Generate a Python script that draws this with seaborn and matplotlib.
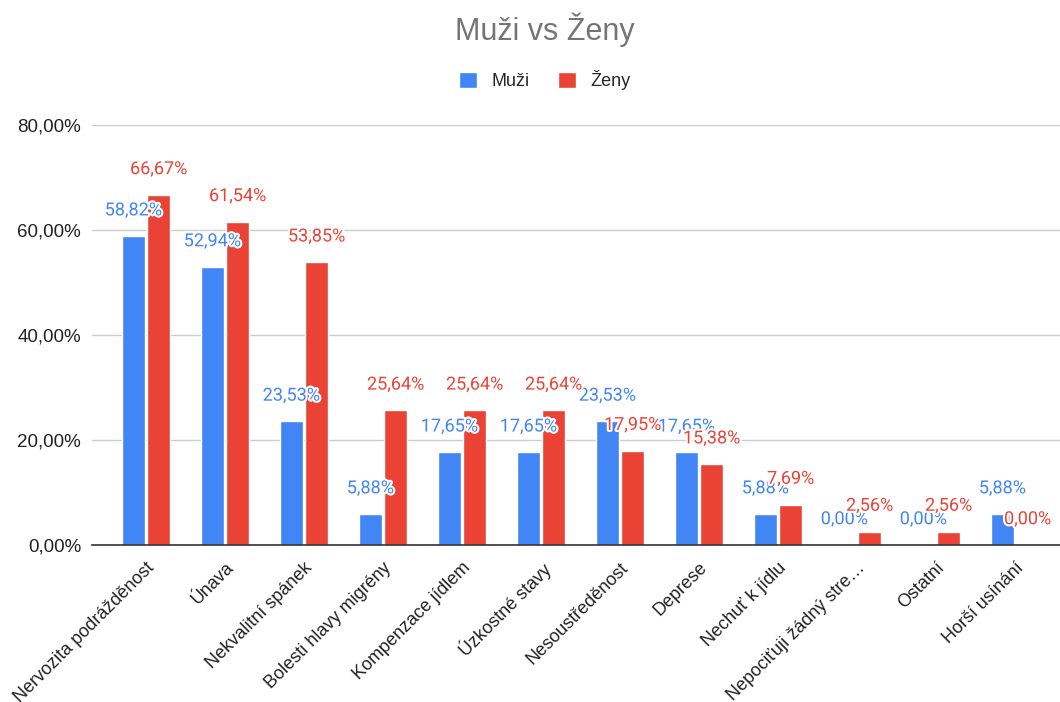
import pandas as pd
import matplotlib
matplotlib.use("Agg")
import matplotlib.pyplot as plt
import matplotlib.patheffects as pe
import seaborn as sns

categories = ['Nervozita podrážděnost', 'Únava', 'Nekvalitní spánek', 'Bolesti hlavy migrény',
              'Kompenzace jídlem', 'Úzkostné stavy', 'Nesoustředěnost', 'Deprese',
              'Nechuť k jídlu', 'Nepociťuji žádný stre…', 'Ostatní', 'Horší usínání']
muzi = [58.82, 52.94, 23.53, 5.88, 17.65, 17.65, 23.53, 17.65, 5.88, 0.00, 0.00, 5.88]
zeny = [66.67, 61.54, 53.85, 25.64, 25.64, 25.64, 17.95, 15.38, 7.69, 2.56, 2.56, 0.00]
series = ['Muži', 'Ženy']
colors = ['#4285F4', '#EA4335']
yticks = [0, 20, 40, 60, 80]

df = pd.DataFrame({
    'kategorie': categories * 2,
    'pohlavi': [series[0]] * len(categories) + [series[1]] * len(categories),
    'hodnota': muzi + zeny,
})

sns.set_style('white')
plt.rcParams['font.family'] = ['Liberation Sans', 'DejaVu Sans']

fig = plt.figure(figsize=(10.6, 7.02), dpi=100)
ax = fig.add_axes([0.087, 0.2236, 0.913, 0.5983])

sns.barplot(data=df, x='kategorie', y='hodnota', hue='pohlavi', palette=colors,
            width=0.64, gap=0.08, ax=ax, saturation=1, legend=True)

ax.set_xlim(-0.68, 11.57)
ax.set_ylim(0, 80)
ax.set_yticks(yticks)
ax.set_yticklabels([f'{v:.2f}'.replace('.', ',') + '%' for v in yticks], fontsize=13.5, color='#222222')
ax.yaxis.grid(True, color='#cccccc', linewidth=1)
ax.set_axisbelow(True)
for s in ['top', 'right', 'left']:
    ax.spines[s].set_visible(False)
ax.spines['bottom'].set_color('#333333')
ax.spines['bottom'].set_linewidth(1.2)
ax.tick_params(axis='y', length=0, pad=8)
ax.tick_params(axis='x', length=0, pad=10)
ax.set_xlabel('')
ax.set_ylabel('')
plt.setp(ax.get_xticklabels(), rotation=45, ha='right', rotation_mode='anchor',
         fontsize=13, color='#222222')

values = [muzi, zeny]
for container, vals, c in zip(ax.containers, values, colors):
    for bar, v in zip(container, vals):
        ax.annotate(f'{v:.2f}'.replace('.', ',') + '%',
                    (bar.get_x() + bar.get_width() / 2, bar.get_height()),
                    xytext=(0, 15), textcoords='offset points',
                    ha='center', va='baseline', fontsize=13, color=c,
                    family=['Roboto', 'DejaVu Sans'],
                    path_effects=[pe.withStroke(linewidth=3, foreground='white')])

handles, labels = ax.get_legend_handles_labels()
ax.get_legend().remove()
fig.legend(handles, labels, loc='center', bbox_to_anchor=(0.514, 0.886), ncol=2,
           frameon=False, fontsize=13, handlelength=1.0, handleheight=1.0,
           columnspacing=1.6, handletextpad=0.8)

fig.text(0.514, 0.957, 'Muži vs Ženy', ha='center', va='center', fontsize=22, color='#757575')

fig.savefig('out.png', dpi=100)
